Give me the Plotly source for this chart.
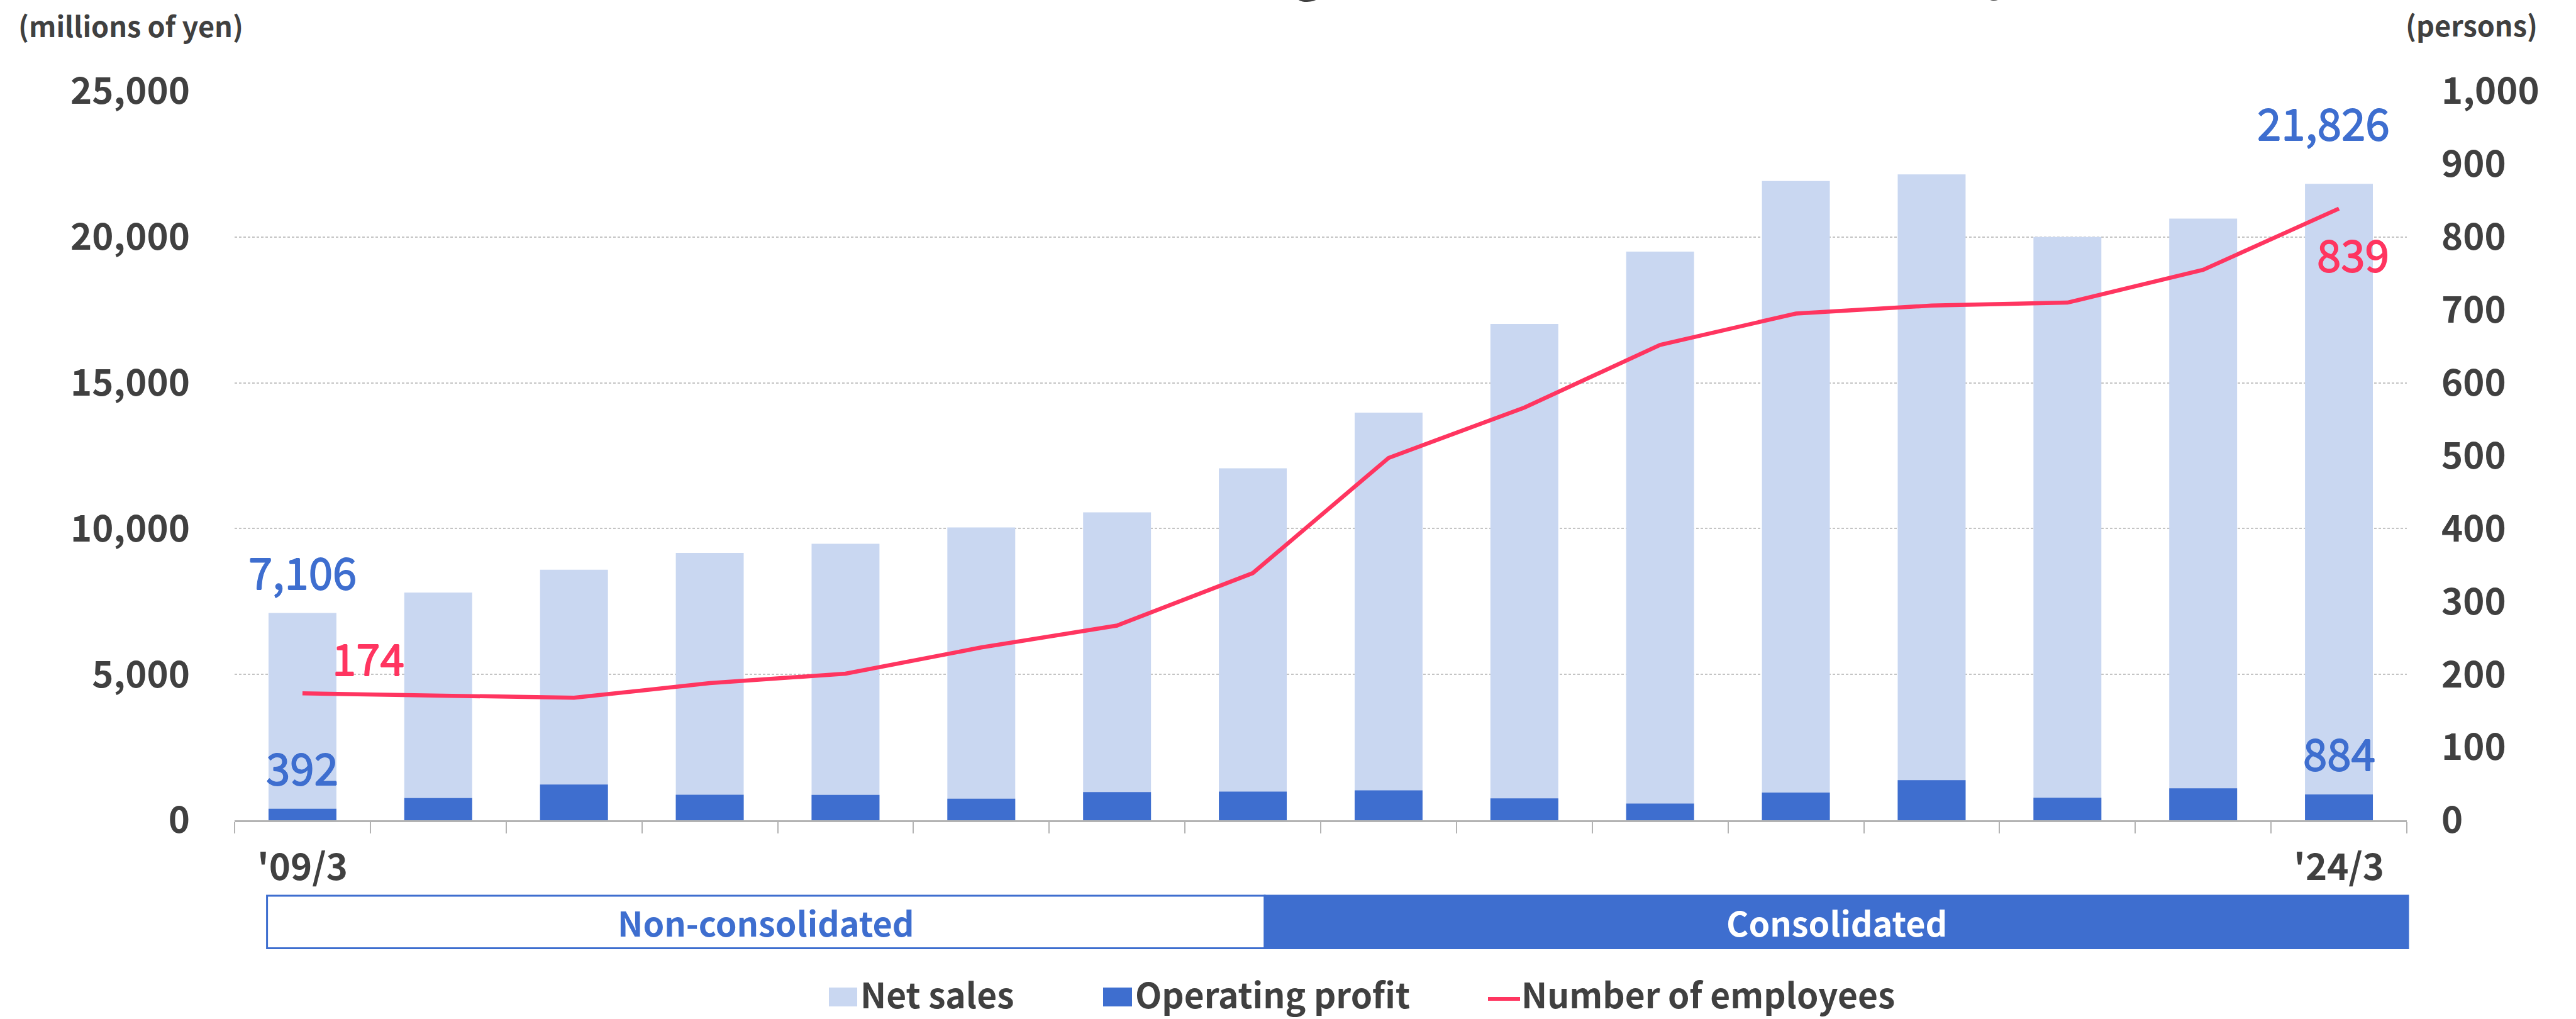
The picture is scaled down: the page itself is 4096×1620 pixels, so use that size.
import plotly.graph_objects as go

# ---- data -------------------------------------------------------------
fiscal_years = ["'09/3", "'10/3", "'11/3", "'12/3", "'13/3", "'14/3", "'15/3", "'16/3",
                "'17/3", "'18/3", "'19/3", "'20/3", "'21/3", "'22/3", "'23/3", "'24/3"]
axis_labels = ["'09/3"] + [""] * 14 + ["'24/3"]

net_sales = [7106, 7810, 8590, 9170, 9480, 10040, 10560, 12070,
             13980, 17020, 19500, 21920, 22150, 20000, 20630, 21826]          # millions of yen
operating_profit = [392, 758, 1226, 872, 866, 739, 966, 980,
                    1023, 752, 574, 947, 1377, 771, 1093, 884]                 # millions of yen
employees = [174, 171, 168, 188, 201, 237, 267, 339,
             497, 566, 652, 695, 706, 710, 755, 839]                           # persons

sales_ticks = [0, 5000, 10000, 15000, 20000, 25000]
staff_ticks = list(range(0, 1001, 100))

# ---- style ------------------------------------------------------------
FONT = "Noto Sans CJK JP"
TEXT = "#404040"
LIGHT = "#C9D7F1"
BLUE = "#3E6ECF"
RED = "#FF3560"
AXIS = "#B3B3B3"

W, H = 4096, 1620
ML, MR, MT, MB = 373, 269, 145, 316
PW, PH = W - ML - MR, H - MT - MB


def px(x):
    """page pixel -> paper x"""
    return (x - ML) / PW


def py(y):
    """page pixel (from top) -> paper y"""
    return (H - MB - y) / PH


def heavier(color, d=0.8):
    """text-shadow that thickens glyph strokes a little (medium weight look)"""
    return (f"{d}px 0px 0px {color}, -{d}px 0px 0px {color}, "
            f"0px {d}px 0px {color}, 0px -{d}px 0px {color}")


fig = go.Figure()

fig.add_trace(go.Bar(x=fiscal_years, y=net_sales, name="Net sales",
                     marker=dict(color=LIGHT, line=dict(width=0)), width=0.5))
fig.add_trace(go.Bar(x=fiscal_years, y=operating_profit, name="Operating profit",
                     marker=dict(color=BLUE, line=dict(width=0)), width=0.5))
fig.add_trace(go.Scatter(x=fiscal_years, y=employees, name="Number of employees",
                         yaxis="y2", mode="lines",
                         line=dict(color=RED, width=6.5)))

tick_font = dict(family=FONT, size=58, color=TEXT, weight="bold")

fig.update_layout(
    width=W, height=H, autosize=False,
    margin=dict(l=ML, r=MR, t=MT, b=MB, pad=0),
    paper_bgcolor="white", plot_bgcolor="white",
    barmode="overlay", showlegend=False,
    font=dict(family=FONT, color=TEXT),
    xaxis=dict(type="category", range=[-0.5, 15.5],
               tickmode="array", tickvals=fiscal_years, ticktext=axis_labels,
               tickson="boundaries", ticks="outside", ticklen=18, tickwidth=1.5,
               tickcolor=AXIS, showline=True, linecolor=AXIS, linewidth=3,
               showgrid=False, zeroline=False, tickfont=tick_font,
               ticklabelstandoff=22),
    yaxis=dict(range=[0, 25000], tickmode="array", tickvals=sales_ticks,
               tickformat=",", showgrid=True, gridcolor="#C4C4C4",
               griddash="4px,3px", gridwidth=1.5, zeroline=False,
               showline=False, ticks="", tickfont=tick_font,
               ticklabelstandoff=70),
    yaxis2=dict(range=[0, 1000], overlaying="y", side="right",
                tickmode="array", tickvals=staff_ticks, tickformat=",",
                showgrid=False, zeroline=False, showline=False, ticks="",
                tickfont=tick_font, ticklabelstandoff=54),
)

ann = []

# value labels
label_font_blue = dict(family=FONT, size=69, color=BLUE, shadow=heavier(BLUE))
label_font_red = dict(family=FONT, size=69, color=RED, shadow=heavier(RED))
for i in (0, 15):
    dx = 0 if i == 0 else -25
    dy = 68 if i == 0 else 99
    ann.append(dict(x=fiscal_years[i], y=net_sales[i], xref="x", yref="y",
                    text=f"{net_sales[i]:,}", showarrow=False, font=label_font_blue,
                    xanchor="center", yanchor="middle", xshift=dx, yshift=dy))
    ann.append(dict(x=fiscal_years[i], y=operating_profit[i], xref="x", yref="y",
                    text=f"{operating_profit[i]:,}", showarrow=False, font=label_font_blue,
                    xanchor="center", yanchor="middle", yshift=68))
ann.append(dict(x=fiscal_years[0], y=employees[0], xref="x", yref="y2",
                text=f"{employees[0]:,}", showarrow=False, font=label_font_red,
                xanchor="center", yanchor="middle", xshift=105, yshift=58))
ann.append(dict(x=fiscal_years[15], y=employees[15], xref="x", yref="y2",
                text=f"{employees[15]:,}", showarrow=False, font=label_font_red,
                xanchor="center", yanchor="middle", xshift=22, yshift=-70))

# unit captions
unit_font = dict(family=FONT, size=45, color=TEXT, weight="bold")
ann.append(dict(x=px(27), y=py(39), xref="paper", yref="paper", text="(millions of yen)",
                showarrow=False, font=unit_font, xanchor="left", yanchor="middle"))
ann.append(dict(x=px(4037), y=py(38), xref="paper", yref="paper", text="(persons)",
                showarrow=False, font=unit_font, xanchor="right", yanchor="middle"))

# chart heading, running off the top edge of the page
ann.append(dict(x=px(2339), y=1, xref="paper", yref="paper",
                text="Net sales, Operating profit and Number of employees",
                showarrow=False, font=dict(family=FONT, size=76, color=TEXT, weight="bold"),
                xanchor="center", yanchor="bottom", yshift=MT - 8))

# reporting-basis band under the axis
band_top, band_bot = 1424, 1507.5
x_left, x_mid, x_right = 424.6, 2011, 3829
shapes = [
    dict(type="rect", xref="paper", yref="paper",
         x0=px(x_left), x1=px(x_mid), y0=py(band_bot), y1=py(band_top),
         line=dict(color=BLUE, width=3), fillcolor="white", layer="above"),
    dict(type="rect", xref="paper", yref="paper",
         x0=px(x_mid), x1=px(x_right), y0=py(band_bot), y1=py(band_top),
         line=dict(color=BLUE, width=3), fillcolor=BLUE, layer="above"),
]
band_font = dict(family=FONT, size=54, weight="bold")
ann.append(dict(x=px((x_left + x_mid) / 2), y=py((band_top + band_bot) / 2),
                xref="paper", yref="paper", text="Non-consolidated", showarrow=False,
                font=dict(band_font, color=BLUE), xanchor="center", yanchor="middle"))
ann.append(dict(x=px((x_mid + x_right) / 2), y=py((band_top + band_bot) / 2),
                xref="paper", yref="paper", text="Consolidated", showarrow=False,
                font=dict(band_font, color="white"), xanchor="center", yanchor="middle"))

# legend
leg_y = 1579
leg_font = dict(family=FONT, size=55, color=TEXT, weight="bold")
for (x0, x1, color, label, tx) in [(1318, 1363, LIGHT, "Net sales", 1366),
                                   (1754, 1800, BLUE, "Operating profit", 1803)]:
    shapes.append(dict(type="rect", xref="paper", yref="paper",
                       x0=px(x0), x1=px(x1), y0=py(leg_y + 21), y1=py(leg_y - 9),
                       line=dict(width=0), fillcolor=color))
    ann.append(dict(x=px(tx), y=py(leg_y), xref="paper", yref="paper", text=label,
                    showarrow=False, font=leg_font, xanchor="left", yanchor="middle"))
shapes.append(dict(type="line", xref="paper", yref="paper",
                   x0=px(2366), x1=px(2417), y0=py(leg_y + 9), y1=py(leg_y + 9),
                   line=dict(color=RED, width=6)))
ann.append(dict(x=px(2417), y=py(leg_y), xref="paper", yref="paper",
                text="Number of employees", showarrow=False, font=leg_font,
                xanchor="left", yanchor="middle"))

fig.update_layout(annotations=ann, shapes=shapes)

fig.write_html("out.html")
